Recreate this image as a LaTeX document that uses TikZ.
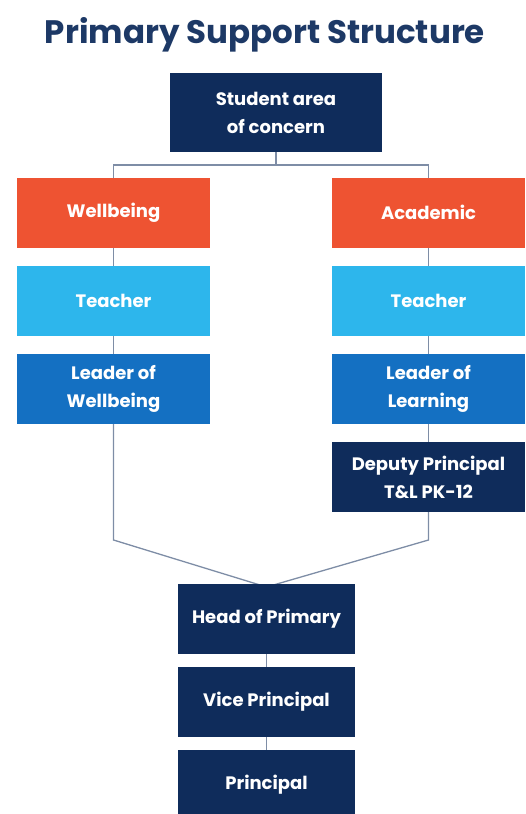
\documentclass[tikz,border=0pt]{standalone}
\usepackage{fontspec}
\setmainfont{Poppins}
\usetikzlibrary{positioning,backgrounds}
\definecolor{navy}{HTML}{0F2C5B}
\definecolor{orangered}{HTML}{EE5332}
\definecolor{skyblue}{HTML}{2DB6EC}
\definecolor{midblue}{HTML}{1470C2}
\definecolor{linkgrey}{HTML}{7E8DA6}
\definecolor{titleblue}{HTML}{1D3966}
\begin{document}
\begin{tikzpicture}[x=1pt,y=-1pt,
    box/.style={minimum width=193pt,minimum height=70pt,inner sep=0pt,outer sep=0pt,text=white,align=center,
                font=\fontsize{18}{28}\selectfont\bfseries},
    link/.style={draw=linkgrey,line width=1.3pt}]
    \useasboundingbox (0,0) rectangle (525,814);
    \node[text=titleblue,font=\fontsize{32.5}{38}\selectfont\bfseries] (title) at (265,35) {Primary Support Structure};
    % top
    \node[box,fill=navy,minimum width=212pt,minimum height=79pt] (concern) at (276,112.5) {Student area\\of concern};
    % left column
    \node[box,fill=orangered] (wellbeing) at (113.5,212.5) {Wellbeing};
    \node[box,fill=skyblue]   (teacherL)  at (113.5,301)   {Teacher};
    \node[box,fill=midblue]   (leaderW)   at (113.5,389)   {Leader of\\Wellbeing};
    % right column
    \node[box,fill=orangered] (academic)  at (428.5,212.5) {Academic};
    \node[box,fill=skyblue]   (teacherR)  at (428.5,301)   {Teacher};
    \node[box,fill=midblue]   (leaderL)   at (428.5,389)   {Leader of\\Learning};
    \node[box,fill=navy]      (deputy)    at (428.5,477)   {Deputy Principal\\T\&L PK-12};
    % bottom
    \node[box,fill=navy,minimum width=177pt] (head)      at (266.5,619)   {Head of Primary};
    \node[box,fill=navy,minimum width=177pt] (vice)      at (266.5,701.5) {Vice Principal};
    \node[box,fill=navy,minimum width=177pt] (principal) at (266.5,785)   {Principal};
    \coordinate (join) at ([yshift=-3pt]head.north);
    % connectors
    \begin{scope}[on background layer]
        \draw[link] (concern.south) -- ++(0,13) -| (wellbeing.north);
        \draw[link] (concern.south) -- ++(0,13) -| (academic.north);
        \draw[link] (wellbeing) -- (teacherL) -- (leaderW);
        \draw[link] (academic) -- (teacherR) -- (leaderL) -- (deputy);
        \draw[link] (leaderW.south) -- ++(0,116) -- (join);
        \draw[link] (deputy.south) -- ++(0,28) -- (join);
        \draw[link] (head) -- (vice) -- (principal);
    \end{scope}
\end{tikzpicture}
\end{document}
